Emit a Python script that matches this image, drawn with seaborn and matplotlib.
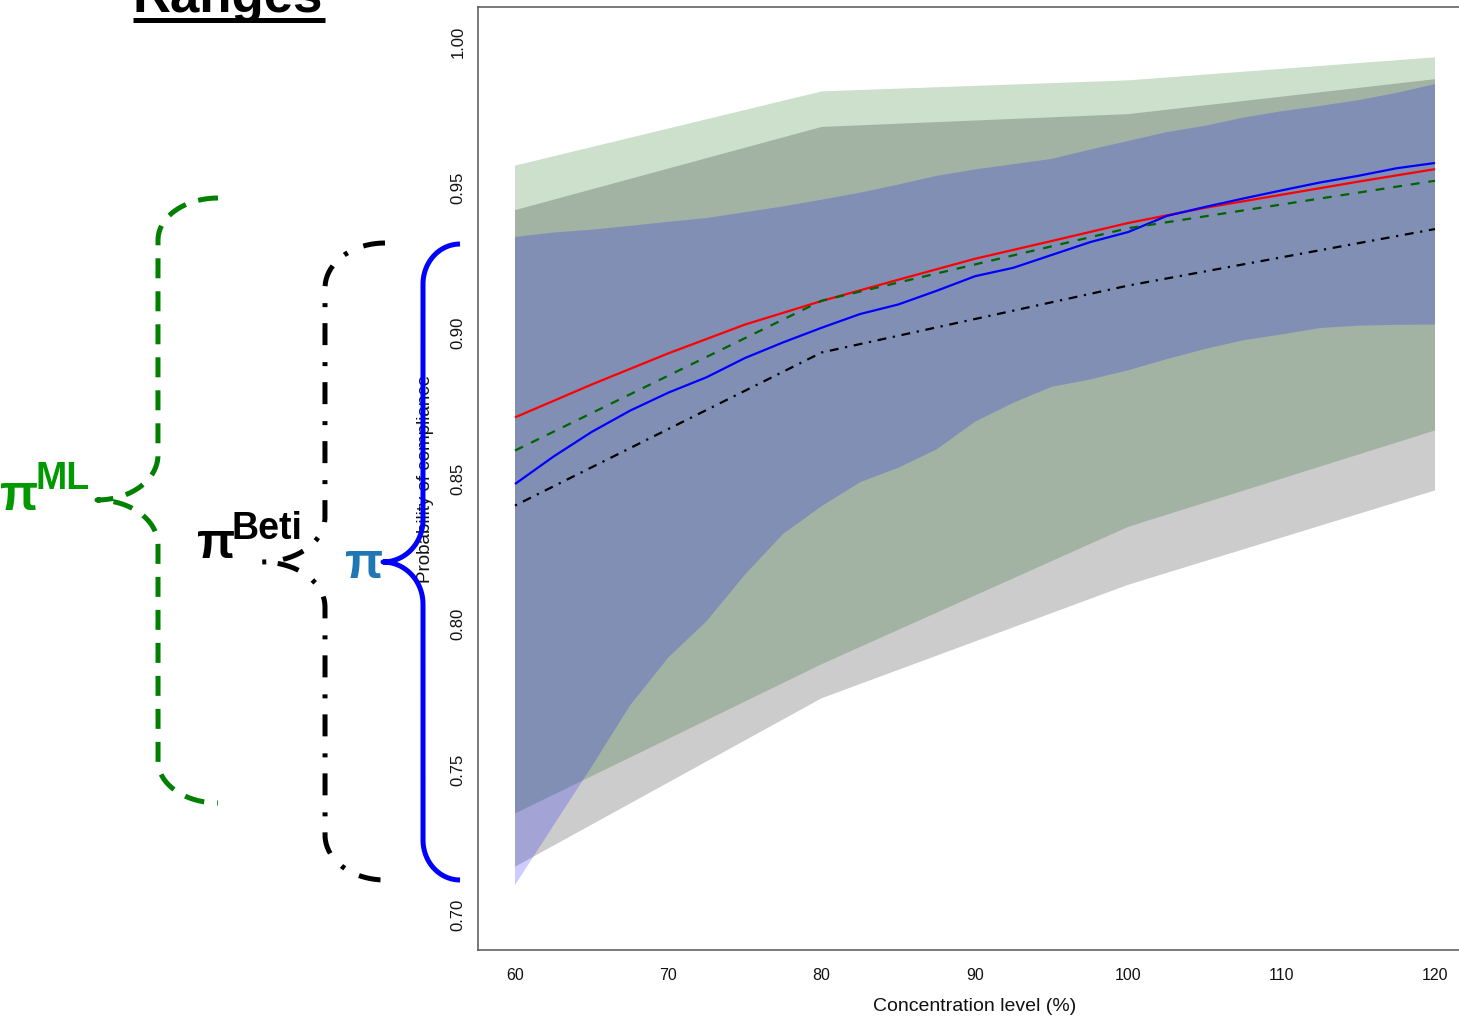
import numpy as np
import matplotlib
matplotlib.use("Agg")
import matplotlib.pyplot as plt
from matplotlib.lines import Line2D
from matplotlib.transforms import Affine2D
import seaborn as sns

# ---------------------------------------------------------------------------
# Data
# ---------------------------------------------------------------------------
# Design concentrations: the model-based estimates are piecewise linear here
conc_design = [60, 80, 100, 120]
# Grid of the simulation-based estimate
conc_grid = [60, 62.5, 65, 67.5, 70, 72.5, 75, 77.5, 80, 82.5, 85, 87.5, 90,
             92.5, 95, 97.5, 100, 102.5, 105, 107.5, 110, 112.5, 115, 117.5, 120]
# Grid of the reference curve
conc_ref = [60, 65, 70, 75, 80, 85, 90, 95, 100, 105, 110, 115, 120]

# pi^ML (green)
ml_est = [0.8596, 0.9111, 0.9360, 0.9523]
ml_lower = [0.7349, 0.7862, 0.8334, 0.8665]
ml_upper = [0.9575, 0.9830, 0.9868, 0.9947]

# pi^Beti (black / grey)
beti_est = [0.8407, 0.8933, 0.9163, 0.9357]
beti_lower = [0.7166, 0.7745, 0.8135, 0.8459]
beti_upper = [0.9422, 0.9708, 0.9752, 0.9872]

# pi (blue)
pi_est = [0.8481, 0.8575, 0.8660, 0.8733, 0.8795, 0.8848, 0.8914, 0.8968,
          0.9018, 0.9065, 0.9098, 0.9145, 0.9195, 0.9224, 0.9268, 0.9312,
          0.9347, 0.9402, 0.9433, 0.9462, 0.9490, 0.9517, 0.9540, 0.9566,
          0.9584]
pi_lower = [0.7103, 0.7307, 0.7510, 0.7720, 0.7885, 0.8010, 0.8170, 0.8310,
            0.8405, 0.8487, 0.8537, 0.8600, 0.8695, 0.8760, 0.8815, 0.8840,
            0.8872, 0.8910, 0.8945, 0.8975, 0.8995, 0.9017, 0.9025, 0.9028,
            0.9029]
pi_upper = [0.9330, 0.9345, 0.9355, 0.9368, 0.9382, 0.9395, 0.9415, 0.9435,
            0.9458, 0.9482, 0.9510, 0.9540, 0.9562, 0.9580, 0.9598, 0.9630,
            0.9660, 0.9690, 0.9712, 0.9740, 0.9762, 0.9780, 0.9800, 0.9825,
            0.9855]

# Reference probability curve (red)
ref_curve = [0.8710, 0.8823, 0.8930, 0.9029, 0.9110, 0.9183, 0.9255, 0.9316,
             0.9378, 0.9430, 0.9475, 0.9520, 0.9563]

x_ticks = [60, 70, 80, 90, 100, 110, 120]
y_ticks = [0.70, 0.75, 0.80, 0.85, 0.90, 0.95, 1.00]

# ---------------------------------------------------------------------------
# Style
# ---------------------------------------------------------------------------
sns.set_style("white")
plt.rcParams["font.family"] = ["Liberation Sans", "DejaVu Sans"]
plt.rcParams["lines.solid_capstyle"] = "butt"

W, H = 1459, 1017
fig = plt.figure(figsize=(W / 100, H / 100), dpi=100)
fig.patch.set_facecolor("white")

ax = fig.add_axes([478.2 / W, 67 / H, 993.6 / W, 943 / H])
ax.set_facecolor("white")

# ---------------------------------------------------------------------------
# Ranges (green, grey, then blue so the semi-transparent fills stack)
# ---------------------------------------------------------------------------
ax.fill_between(conc_design, ml_lower, ml_upper, color="#006400", alpha=0.2,
                linewidth=0, edgecolor="none")
ax.fill_between(conc_design, beti_lower, beti_upper, color="black", alpha=0.2,
                linewidth=0, edgecolor="none")
ax.fill_between(conc_grid, pi_lower, pi_upper, color="blue", alpha=0.2,
                linewidth=0, edgecolor="none")

# Estimates
sns.lineplot(x=conc_ref, y=ref_curve, color="red", lw=1.6, ax=ax, legend=False)
sns.lineplot(x=conc_grid, y=pi_est, color="blue", lw=1.6, ax=ax, legend=False)
sns.lineplot(x=conc_design, y=ml_est, color="#006400", lw=1.6,
             linestyle=(0, (4, 4)), ax=ax, legend=False)
sns.lineplot(x=conc_design, y=beti_est, color="black", lw=1.6,
             linestyle=(0, (1, 3, 4, 3)), ax=ax, legend=False)

# Axes
ax.set_xlim(57.6, 122.4)
ax.set_ylim(0.688, 1.012)
ax.set_xticks(x_ticks)
ax.set_xticklabels([str(v) for v in x_ticks], fontsize=11.5)
ax.set_yticks(y_ticks)
ax.set_yticklabels([f"{v:.2f}" for v in y_ticks], fontsize=12, rotation=90,
                   va="center")
ax.tick_params(axis="both", direction="out", length=5, width=1.0,
               color="#555555", labelcolor="#111111")
ax.tick_params(axis="x", pad=8)
ax.tick_params(axis="y", pad=4)
for sp in ax.spines.values():
    sp.set_visible(True)
    sp.set_color("#555555")
    sp.set_linewidth(1.1)

ax.set_xlabel("Concentration level (%)", fontsize=14, color="#111111")
ax.xaxis.set_label_coords(0.5, -0.0594)
ax.xaxis.label.set_va("center")
ax.set_ylabel("Probability of compliance", fontsize=13.5, color="#111111")
ax.yaxis.set_label_coords(-0.0535, 0.5)
ax.yaxis.label.set_va("center")

# ---------------------------------------------------------------------------
# Braces and labels on the left (figure pixel coordinates, origin top-left)
# ---------------------------------------------------------------------------
px = Affine2D().scale(1 / W, -1 / H).translate(0, 1) + fig.transFigure


def brace(x_open, x_spine, x_tip, y_top, y_bot, y_mid, ry_c, ry_t, n=40):
    rx_c = x_open - x_spine
    rx_t = x_spine - x_tip
    t = np.linspace(-np.pi / 2, -np.pi, n)
    xs = [x_open + rx_c * np.cos(t)]
    ys = [y_top + ry_c + ry_c * np.sin(t)]
    t = np.linspace(0, np.pi / 2, n)
    xs.append(x_tip + rx_t * np.cos(t))
    ys.append(y_mid - ry_t + ry_t * np.sin(t))
    t = np.linspace(-np.pi / 2, 0, n)
    xs.append(x_tip + rx_t * np.cos(t))
    ys.append(y_mid + ry_t + ry_t * np.sin(t))
    t = np.linspace(np.pi, np.pi / 2, n)
    xs.append(x_open + rx_c * np.cos(t))
    ys.append(y_bot - ry_c + ry_c * np.sin(t))
    return np.concatenate(xs), np.concatenate(ys)


bx, by = brace(218, 158, 97, 198, 803, 500, 42, 45)
fig.add_artist(Line2D(bx, by, transform=px, color="#008000", lw=3.6,
                      linestyle=(0, (4, 2.6))))
bx, by = brace(385, 325, 262, 243, 880, 562, 45, 45)
fig.add_artist(Line2D(bx, by, transform=px, color="black", lw=3.6,
                      linestyle=(0, (4.4, 3.4, 0.8, 3.2))))
bx, by = brace(460, 423, 383, 244, 880, 562, 40, 42)
fig.add_artist(Line2D(bx, by, transform=px, color="blue", lw=3.6))

pi_font = dict(fontsize=36, fontweight="bold", ha="left", va="baseline")
sup_font = dict(fontsize=27, fontweight="bold", ha="left", va="baseline")

fig.text(0, 510, "π", transform=px, color="#009900", **pi_font)
fig.text(35, 489, "ML", transform=px, color="#009900", **sup_font)
fig.text(197, 558, "π", transform=px, color="black", **pi_font)
fig.text(232, 539, "Beti", transform=px, color="black", **sup_font)
fig.text(345, 578, "π", transform=px, color="#1f77b4", **pi_font)

# Title, partly above the top edge, underlined
fig.text(133, 12, "Ranges", transform=px, fontsize=38, fontweight="bold",
         color="black", ha="left", va="baseline")
fig.add_artist(Line2D([133, 325], [20, 20], transform=px, color="black",
                      lw=3.6))

fig.savefig("out.png", dpi=100)
